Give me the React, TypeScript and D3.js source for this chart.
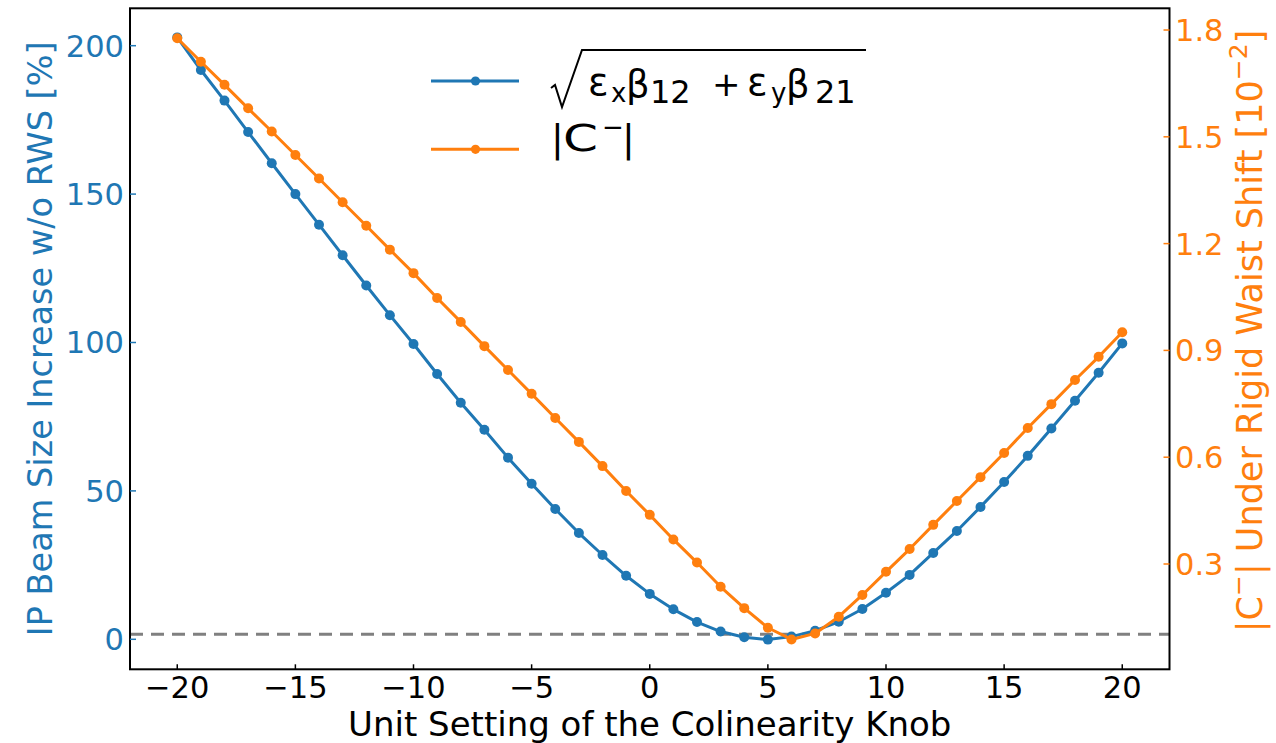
import React from 'react';
import * as d3 from 'd3';

const knob = [-20, -19, -18, -17, -16, -15, -14, -13, -12, -11, -10, -9, -8, -7, -6, -5, -4, -3, -2, -1, 0, 1, 2, 3, 4, 5, 6, 7, 8, 9, 10, 11, 12, 13, 14, 15, 16, 17, 18, 19, 20];
const beamSizeIncrease = [202.8, 191.8, 181.5, 170.9, 160.4, 150.0, 139.7, 129.4, 119.2, 109.2, 99.5, 89.4, 79.7, 70.6, 61.2, 52.4, 43.9, 35.8, 28.4, 21.4, 15.3, 10.1, 5.8, 2.6, 0.7, -0.1, 0.9, 2.9, 5.9, 10.2, 15.7, 21.7, 29.1, 36.5, 44.6, 53.0, 61.8, 71.0, 80.4, 89.8, 99.7];
const cMinus = [1.777, 1.711, 1.646, 1.580, 1.515, 1.449, 1.383, 1.316, 1.250, 1.183, 1.117, 1.047, 0.980, 0.912, 0.845, 0.778, 0.710, 0.643, 0.575, 0.505, 0.438, 0.369, 0.304, 0.236, 0.176, 0.121, 0.088, 0.105, 0.152, 0.213, 0.278, 0.342, 0.410, 0.477, 0.544, 0.612, 0.682, 0.749, 0.817, 0.882, 0.951];
const xTicks = [-20, -15, -10, -5, 0, 5, 10, 15, 20];
const leftTicks = [0, 50, 100, 150, 200];
const rightTicks = [0.3, 0.6, 0.9, 1.2, 1.5, 1.8];
const referenceLevel = 1.7;

const xLabel = 'Unit Setting of the Colinearity Knob';
const leftLabel = 'IP Beam Size Increase w/o RWS [%]';

const BLUE = '#1f77b4';
const ORANGE = '#ff7f0e';
const FONT = '"DejaVu Sans", sans-serif';

const W = 1276, H = 743;
const L = 130, R = 1169.5, T = 8.3, B = 669.3;

const fmtX = (v: number) => (v < 0 ? '\u2212' + Math.abs(v) : String(v));
const fmtR = d3.format('.1f');

export default function App() {
  const x = d3.scaleLinear().domain([-22, 22]).range([L, R]);
  const yL = d3.scaleLinear().domain([-10.11, 212.6]).range([B, T]);
  const yR = d3.scaleLinear().domain([0.0042, 1.861]).range([B, T]);

  const lineL = d3.line<number>().x((_, i) => x(knob[i])).y((d) => yL(d));
  const lineR = d3.line<number>().x((_, i) => x(knob[i])).y((d) => yR(d));

  const tickFs = 30.5;
  const labelFs = 34;
  const lw = 3;
  const mr = 5;

  return (
    <svg width={W} height={H} style={{ position: 'absolute', left: 0, top: 0, background: '#fff' }} fontFamily={FONT}>
      <rect x={0} y={0} width={W} height={H} fill="#fff" />
      {/* reference dashed line */}
      <line x1={L} x2={R} y1={yL(referenceLevel)} y2={yL(referenceLevel)} stroke="#808080" strokeWidth={3} strokeDasharray="13,8" />

      {/* blue series */}
      <path d={lineL(beamSizeIncrease) || ''} fill="none" stroke={BLUE} strokeWidth={lw} strokeLinejoin="round" />
      {beamSizeIncrease.map((v, i) => (
        <circle key={'b' + i} cx={x(knob[i])} cy={yL(v)} r={mr} fill={BLUE} />
      ))}

      {/* orange series */}
      <path d={lineR(cMinus) || ''} fill="none" stroke={ORANGE} strokeWidth={lw} strokeLinejoin="round" />
      {cMinus.map((v, i) => (
        <circle key={'o' + i} cx={x(knob[i])} cy={yR(v)} r={mr} fill={ORANGE} />
      ))}

      {/* frame */}
      <rect x={L} y={T} width={R - L} height={B - T} fill="none" stroke="#000" strokeWidth={2} />

      {/* x ticks */}
      {xTicks.map((t) => (
        <g key={'xt' + t}>
          <line x1={x(t)} x2={x(t)} y1={B} y2={B - 5} stroke="#000" strokeWidth={1.5} />
          <text x={x(t)} y={697.5} fontSize={tickFs} textAnchor="middle" fill="#000">{fmtX(t)}</text>
        </g>
      ))}

      {/* left ticks */}
      {leftTicks.map((t) => (
        <g key={'lt' + t}>
          <line x1={L} x2={L + 6} y1={yL(t)} y2={yL(t)} stroke={BLUE} strokeWidth={1.5} />
          <text x={124} y={yL(t) + 11} fontSize={tickFs} textAnchor="end" fill={BLUE}>{String(t)}</text>
        </g>
      ))}

      {/* right ticks */}
      {rightTicks.map((t) => (
        <g key={'rt' + t}>
          <line x1={R - 6} x2={R} y1={yR(t)} y2={yR(t)} stroke={ORANGE} strokeWidth={1.5} />
          <text x={1175} y={yR(t) + 11} fontSize={tickFs} textAnchor="start" fill={ORANGE}>{fmtR(t)}</text>
        </g>
      ))}

      {/* axis labels */}
      <text x={(L + R) / 2} y={736} fontSize={labelFs} textAnchor="middle" fill="#000">{xLabel}</text>
      <text transform={`translate(52,${(T + B) / 2}) rotate(-90)`} fontSize={33.5} textAnchor="middle" fill={BLUE}>{leftLabel}</text>
      <text transform={`translate(1262,331) rotate(-90)`} fontSize={35} textAnchor="middle" fill={ORANGE}>
        <tspan>|C</tspan>
        <tspan fontSize={25} dy={-15}>{'\u2212'}</tspan>
        <tspan dy={15}>| Under Rigid Waist Shift [10</tspan>
        <tspan fontSize={25} dy={-15}>{'\u22122'}</tspan>
        <tspan dy={15}>]</tspan>
      </text>

      {/* legend */}
      <line x1={431} x2={519} y1={81} y2={81} stroke={BLUE} strokeWidth={lw} />
      <circle cx={475.5} cy={81} r={4.6} fill={BLUE} />
      <line x1={431} x2={519} y1={149.3} y2={149.3} stroke={ORANGE} strokeWidth={lw} />
      <circle cx={475.5} cy={149.3} r={4.6} fill={ORANGE} />

      <path d="M551,88 L555,85 L562,107 L582,50 L866,50" fill="none" stroke="#000" strokeWidth={2} />
      <g fill="#000">
        <text x={588} y={95} fontSize={38}>ε</text>
        <text x={611} y={102} fontSize={26}>x</text>
        <text x={626} y={97} fontSize={37}>β</text>
        <text x={650} y={103} fontSize={32}>12</text>
        <text x={712} y={96} fontSize={34}>+</text>
        <text x={747} y={95} fontSize={38}>ε</text>
        <text x={771} y={102} fontSize={26}>y</text>
        <text x={786} y={97} fontSize={37}>β</text>
        <text x={815} y={103} fontSize={32}>21</text>
      </g>
      <g fill="#000">
        <text x={551} y={151} fontSize={38}>|</text>
        <text x={563} y={151} fontSize={38} textLength={35} lengthAdjust="spacingAndGlyphs">C</text>
        <text x={602} y={136} fontSize={26}>{'\u2212'}</text>
        <text x={622} y={151} fontSize={38}>|</text>
      </g>
    </svg>
  );
}
